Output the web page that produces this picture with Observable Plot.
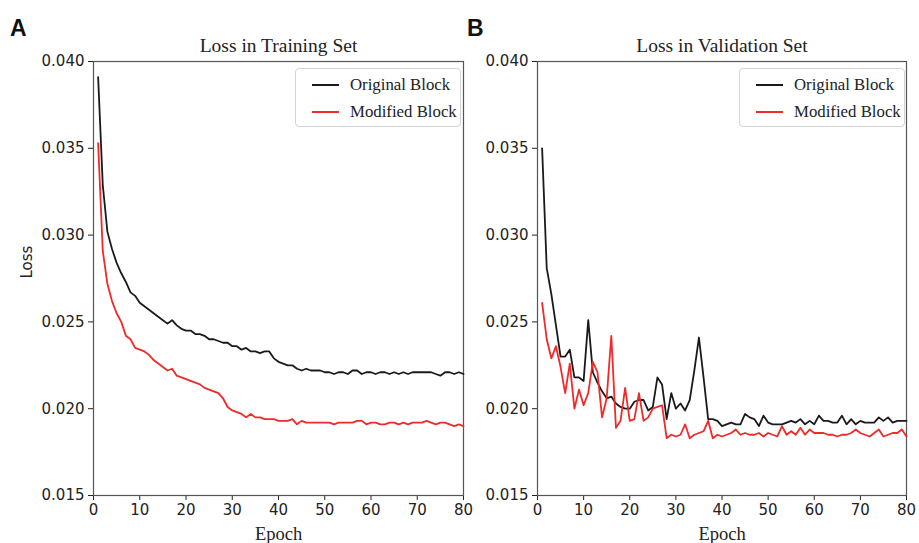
<!DOCTYPE html>
<html><head><meta charset="utf-8">
<script src="https://cdn.jsdelivr.net/npm/d3@7"></script>
<script src="https://cdn.jsdelivr.net/npm/@observablehq/plot@0.6"></script>
<style>
body{margin:0;background:#fff;}
#wrap{position:relative;width:919px;height:543px;overflow:hidden;background:#fff;}
.panel{position:absolute;top:0;}
.letter{position:absolute;font:bold 23px "Liberation Sans",Arial,sans-serif;color:#111;line-height:1;}
.legend{position:absolute;box-sizing:border-box;border:1px solid #d4d4d4;border-radius:4px;background:rgba(255,255,255,0.85);font:16.8px "Liberation Serif",serif;color:#222;}
.legend .row{position:absolute;left:0;height:20px;display:flex;align-items:center;white-space:nowrap;}
.legend .sw{display:inline-block;width:27px;height:2px;margin-left:16px;margin-right:11px;}
</style>
</head><body>
<div id="wrap"></div>
<script>
const xTicks = [0, 10, 20, 30, 40, 50, 60, 70, 80];
const yTicks = [0.015, 0.020, 0.025, 0.030, 0.035, 0.040];
const seriesNames = ["Original Block", "Modified Block"];
const seriesColors = ["#1a1a1a", "#ee2a2a"];
const panelTitles = ["Loss in Training Set", "Loss in Validation Set"];
const panelLetters = ["A", "B"];

const trainOriginal = [
0.0391,0.0329,0.0302,0.0292,0.0284,0.0278,0.0273,0.0267,0.0265,0.0261,
0.0259,0.0257,0.0255,0.0253,0.0251,0.0249,0.0251,0.0248,0.0246,0.0245,
0.0245,0.0243,0.0243,0.0242,0.0240,0.0240,0.0239,0.0238,0.0238,0.0236,
0.0236,0.0234,0.0235,0.0233,0.0233,0.0232,0.0233,0.0233,0.0229,0.0227,
0.0226,0.0225,0.0225,0.0223,0.0222,0.0223,0.0222,0.0222,0.0222,0.0221,
0.0221,0.0220,0.0221,0.0221,0.0220,0.0222,0.0222,0.0220,0.0221,0.0221,
0.0220,0.0221,0.0221,0.0220,0.0221,0.0220,0.0221,0.0220,0.0221,0.0221,
0.0221,0.0221,0.0221,0.0220,0.0219,0.0221,0.0221,0.0220,0.0221,0.0220];

const trainModified = [
0.0353,0.0291,0.0272,0.0262,0.0255,0.0250,0.0242,0.0240,0.0235,0.0234,
0.0233,0.0231,0.0228,0.0226,0.0224,0.0222,0.0223,0.0219,0.0218,0.0217,
0.0216,0.0215,0.0214,0.0212,0.0211,0.0210,0.0209,0.0206,0.0201,0.0199,
0.0198,0.0197,0.0195,0.0197,0.0195,0.0195,0.0194,0.0194,0.0194,0.0193,
0.0193,0.0193,0.0194,0.0191,0.0193,0.0192,0.0192,0.0192,0.0192,0.0192,
0.0192,0.0191,0.0192,0.0192,0.0192,0.0192,0.0193,0.0193,0.0191,0.0192,
0.0192,0.0191,0.0191,0.0192,0.0192,0.0191,0.0192,0.0191,0.0192,0.0192,
0.0192,0.0193,0.0192,0.0191,0.0192,0.0192,0.0191,0.0190,0.0191,0.0190];

const valOriginal = [
0.0350,0.0281,0.0266,0.0248,0.0230,0.0230,0.0234,0.0218,0.0218,0.0216,
0.0251,0.0221,0.0215,0.0210,0.0206,0.0207,0.0203,0.0201,0.0200,0.0200,
0.0204,0.0205,0.0205,0.0199,0.0201,0.0218,0.0214,0.0194,0.0209,0.0200,
0.0203,0.0199,0.0205,0.0222,0.0241,0.0218,0.0194,0.0194,0.0193,0.0190,
0.0191,0.0192,0.0191,0.0191,0.0197,0.0195,0.0194,0.0190,0.0196,0.0192,
0.0191,0.0191,0.0191,0.0192,0.0193,0.0192,0.0194,0.0191,0.0193,0.0191,
0.0196,0.0193,0.0193,0.0192,0.0192,0.0196,0.0191,0.0194,0.0191,0.0193,
0.0192,0.0192,0.0192,0.0195,0.0193,0.0195,0.0192,0.0193,0.0193,0.0193];

const valModified = [
0.0261,0.0240,0.0229,0.0236,0.0224,0.0209,0.0226,0.0200,0.0211,0.0202,
0.0209,0.0227,0.0221,0.0195,0.0206,0.0242,0.0189,0.0193,0.0212,0.0193,
0.0194,0.0209,0.0193,0.0195,0.0200,0.0201,0.0202,0.0183,0.0185,0.0184,
0.0185,0.0191,0.0183,0.0185,0.0186,0.0187,0.0193,0.0183,0.0185,0.0184,
0.0185,0.0186,0.0188,0.0185,0.0186,0.0185,0.0185,0.0186,0.0184,0.0186,
0.0185,0.0184,0.0190,0.0185,0.0187,0.0185,0.0189,0.0185,0.0188,0.0186,
0.0186,0.0186,0.0185,0.0185,0.0184,0.0185,0.0185,0.0186,0.0188,0.0186,
0.0185,0.0184,0.0186,0.0188,0.0184,0.0185,0.0186,0.0186,0.0188,0.0184];

const toRows = arr => arr.map((v, i) => ({epoch: i + 1, loss: v}));

const wrap = document.getElementById("wrap");

function makePanel(cfg) {
  const chart = Plot.plot({
    width: cfg.width,
    height: 543,
    marginLeft: cfg.marginLeft,
    marginRight: cfg.marginRight,
    marginTop: 61,
    marginBottom: 48,
    style: {fontFamily: "DejaVu Sans", fontSize: "15px", color: "#222", background: "transparent", overflow: "visible"},
    x: {domain: [0, 80], ticks: xTicks, tickSize: 5, tickPadding: 4, label: null},
    y: {domain: [0.015, 0.040], ticks: yTicks, tickFormat: d3.format(".3f"), tickSize: 5, tickPadding: 4, label: null},
    marks: [
      Plot.frame({stroke: "#555", strokeWidth: 1.2}),
      Plot.line(toRows(cfg.orig), {x: "epoch", y: "loss", stroke: seriesColors[0], strokeWidth: 1.8}),
      Plot.line(toRows(cfg.mod), {x: "epoch", y: "loss", stroke: seriesColors[1], strokeWidth: 1.8}),
      Plot.text([cfg.title], {text: d => d, frameAnchor: "top", dy: -10, lineAnchor: "bottom", fontFamily: "Liberation Serif", fontSize: 19.5, fill: "#222"}),
      Plot.text(["Epoch"], {text: d => d, frameAnchor: "bottom", dy: 39, lineAnchor: "middle", fontFamily: "Liberation Serif", fontSize: 18.5, fill: "#222"}),
      cfg.showYLabel ? Plot.text(["Loss"], {text: d => d, frameAnchor: "left", dx: -66, rotate: -90, fontSize: 15, fill: "#222"}) : null
    ]
  });
  chart.classList.add("panel");
  chart.style.left = cfg.left + "px";
  wrap.appendChild(chart);

  const letter = document.createElement("div");
  letter.className = "letter";
  letter.textContent = cfg.letter;
  letter.style.left = cfg.letterX + "px";
  letter.style.top = "17px";
  wrap.appendChild(letter);

  const lg = document.createElement("div");
  lg.className = "legend";
  lg.style.left = cfg.legendX + "px";
  lg.style.top = "68px";
  lg.style.width = "166px";
  lg.style.height = "59px";
  seriesNames.forEach((name, i) => {
    const row = document.createElement("div");
    row.className = "row";
    row.style.top = (6 + i * 27) + "px";
    const sw = document.createElement("span");
    sw.className = "sw";
    sw.style.background = seriesColors[i];
    row.appendChild(sw);
    row.appendChild(document.createTextNode(name));
    lg.appendChild(row);
  });
  wrap.appendChild(lg);
}

makePanel({left: 0, width: 470, marginLeft: 93, marginRight: 7, orig: trainOriginal, mod: trainModified,
  title: panelTitles[0], letter: panelLetters[0], letterX: 10, legendX: 295, showYLabel: true});
makePanel({left: 470, width: 449, marginLeft: 67, marginRight: 13, orig: valOriginal, mod: valModified,
  title: panelTitles[1], letter: panelLetters[1], letterX: 467, legendX: 739, showYLabel: false});
</script>
</body></html>
